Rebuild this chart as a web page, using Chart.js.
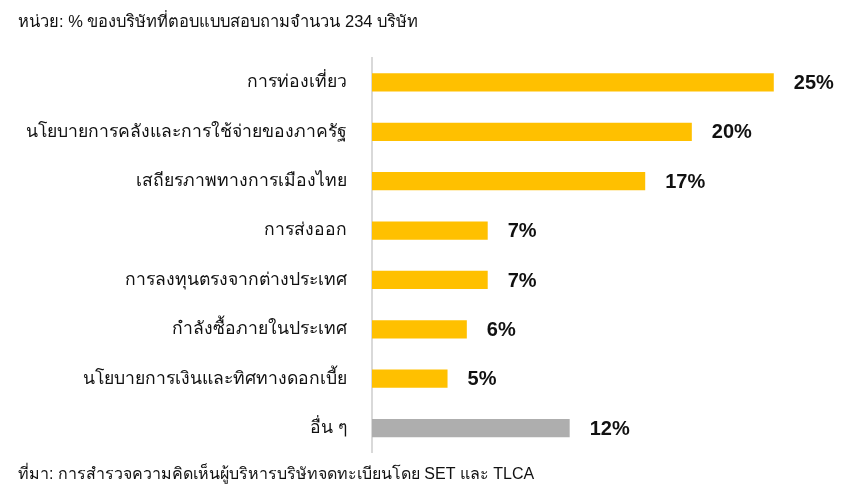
<!DOCTYPE html>
<html>
<head>
<meta charset="utf-8">
<script src="https://cdn.jsdelivr.net/npm/chart.js@4/dist/chart.umd.min.js"></script>
<style>
  html, body { margin: 0; padding: 0; background: #fff; }
  #wrap { width: 842px; height: 494px; }
</style>
</head>
<body>
<div id="wrap"><canvas id="chart" width="842" height="494"></canvas></div>
<script>
// ===== data =====
const categories = [
  "การท่องเที่ยว",
  "นโยบายการคลังและการใช้จ่ายของภาครัฐ",
  "เสถียรภาพทางการเมืองไทย",
  "การส่งออก",
  "การลงทุนตรงจากต่างประเทศ",
  "กำลังซื้อภายในประเทศ",
  "นโยบายการเงินและทิศทางดอกเบี้ย",
  "อื่น ๆ",
];
const values = [25, 19.9, 17, 7.2, 7.2, 5.9, 4.7, 12.3];
const valueLabels = ["25%", "20%", "17%", "7%", "7%", "6%", "5%", "12%"];
const titleText = "หน่วย: % ของบริษัทที่ตอบแบบสอบถามจำนวน 234 บริษัท";
const sourceText = "ที่มา: การสำรวจความคิดเห็นผู้บริหารบริษัทจดทะเบียนโดย SET และ TLCA";

const FONT = "'Liberation Sans', 'Noto Sans', 'DejaVu Sans', sans-serif";
const barColors = values.map((_, i) => i === values.length - 1 ? "#AEAEAE" : "#FFC000");

// value labels drawn just right of each bar
const valueLabelPlugin = {
  id: "valueLabels",
  afterDatasetsDraw(chart) {
    const ctx = chart.ctx;
    const meta = chart.getDatasetMeta(0);
    ctx.save();
    ctx.font = "bold 20px " + FONT;
    ctx.fillStyle = "#111";
    ctx.textAlign = "left";
    ctx.textBaseline = "middle";
    meta.data.forEach((bar, i) => {
      ctx.fillText(valueLabels[i], bar.x + 20, bar.y + 1);
    });
    ctx.restore();
  },
};

new Chart(document.getElementById("chart"), {
  type: "bar",
  data: {
    labels: categories,
    datasets: [{
      data: values,
      backgroundColor: barColors,
      borderWidth: 0,
      categoryPercentage: 1,
      barPercentage: 0.37,
    }],
  },
  options: {
    indexAxis: "y",
    responsive: false,
    animation: false,
    layout: { padding: { left: 18, right: 20, top: 0, bottom: 0 } },
    plugins: {
      legend: { display: false },
      tooltip: { enabled: false },
      title: {
        display: true,
        text: titleText,
        align: "start",
        color: "#111",
        font: { family: FONT, size: 16.5, weight: "normal" },
        padding: { top: 13, bottom: 25 },
      },
      subtitle: {
        display: true,
        text: sourceText,
        position: "bottom",
        align: "start",
        color: "#111",
        font: { family: FONT, size: 16, weight: "normal" },
        padding: { top: 12, bottom: 10 },
      },
    },
    scales: {
      x: {
        display: false,
        min: 0,
        max: 28,
      },
      y: {
        afterFit(scale) { scale.width = 354; },
        grid: { display: false, drawTicks: false },
        border: { display: true, color: "#D9D9D9", width: 2 },
        ticks: {
          color: "#111",
          padding: 25,
          font: { family: FONT, size: 17.6 },
        },
      },
    },
  },
  plugins: [valueLabelPlugin],
});
</script>
</body>
</html>
